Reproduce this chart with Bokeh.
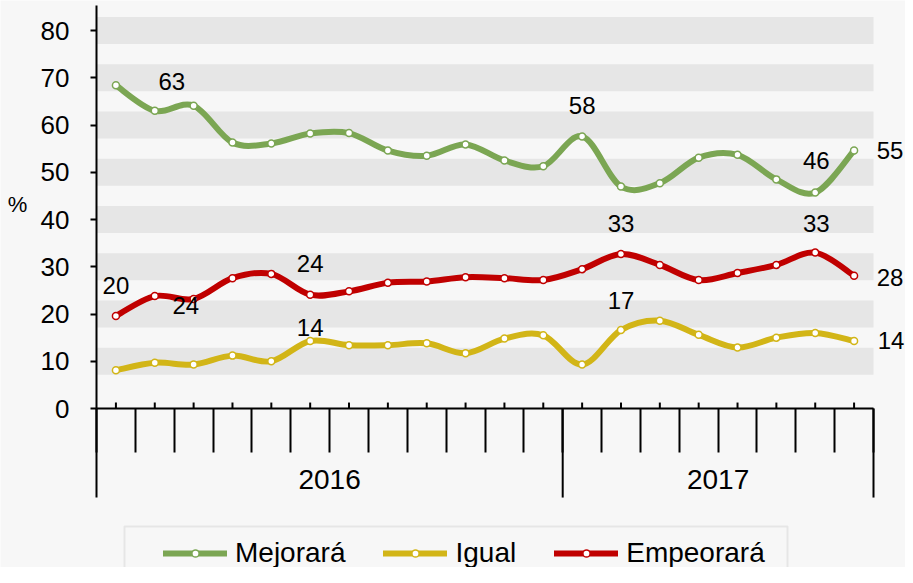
from bokeh.plotting import figure
from bokeh.models import (FixedTicker, Range1d, Legend, LegendItem,
                          BoxAnnotation, ColumnDataSource)
from bokeh.core.properties import value
from bokeh.embed import file_html
from bokeh.resources import INLINE

# ---------------- data ----------------
years = ["2016"] * 12 + ["2017"] * 8
months = ["Ene", "Feb", "Mar", "Abr", "May", "Jun", "Jul", "Ago", "Sep", "Oct", "Nov", "Dic",
          "Ene", "Feb", "Mar", "Abr", "May", "Jun", "Jul", "Ago"]
mejorara = [68.4, 63.0, 64.1, 56.3, 56.1, 58.2, 58.3, 54.6, 53.5, 55.9,
            52.5, 51.3, 57.6, 47.0, 47.7, 53.1, 53.7, 48.5, 45.7, 54.6]
igual = [8.1, 9.7, 9.3, 11.2, 10.0, 14.3, 13.4, 13.4, 13.8, 11.7,
         14.8, 15.5, 9.3, 16.6, 18.6, 15.6, 12.9, 15.0, 16.0, 14.3]
empeorara = [19.6, 23.8, 23.2, 27.6, 28.5, 24.1, 24.8, 26.6, 26.9, 27.8,
             27.6, 27.2, 29.5, 32.7, 30.4, 27.2, 28.7, 30.4, 33.0, 28.1]
y_ticks = [0, 10, 20, 30, 40, 50, 60, 70, 80]
y_title = "%"
series_names = ["Mejorará", "Igual", "Empeorará"]
# indices of points that carry a data label, per series
labeled = {"Mejorará": [1, 12, 18, 19], "Igual": [5, 13, 19], "Empeorará": [0, 1, 5, 13, 18, 19]}

# ---------------- styles / layout ----------------
BG = "#f7f7f7"
BAND = "#e6e6e6"
COLORS = {"Mejorará": "#7ba653", "Igual": "#d2b517", "Empeorará": "#c00000"}
FONT = "Liberation Sans"
# label offsets in screen pixels (dx, dy down)
label_offsets = {
    "Mejorará": [(17, -29), (0, -31), (1, -32), (36, 0)],
    "Igual": [(0, -13), (0, -30), (37, 0)],
    "Empeorará": [(0, -30), (31, 9), (0, -31), (0, -31), (1, -29), (36, 2)],
}

n = len(months)
xs = list(range(n))
series = {"Mejorará": mejorara, "Igual": igual, "Empeorará": empeorara}

# figure geometry: the whole figure is the drawing frame
W, H = 905, 567
LEFT, TOP = 96, 5                 # figure px of the plot area's top-left corner
PX_X = 38.85                      # px per month
Y_TOP = 85.3                      # value at top of plot area
PX_Y = 4.725                      # px per percent point
x_start = -0.5 - LEFT / PX_X
x_end = -0.5 + (W - LEFT) / PX_X
y_end = Y_TOP + TOP / PX_Y
y_start = Y_TOP - (H - TOP) / PX_Y

def px_x(fx):
    return -0.5 + (fx - LEFT) / PX_X
def px_y(fy):
    return Y_TOP - (fy - TOP) / PX_Y

p = figure(width=W, height=H, output_backend="svg", toolbar_location=None,
           x_range=Range1d(x_start, x_end), y_range=Range1d(y_start, y_end),
           min_border_left=0, min_border_right=0, min_border_top=0, min_border_bottom=0,
           background_fill_color=BG, border_fill_color=BG, outline_line_color=None)
p.xgrid.grid_line_color = None
p.ygrid.grid_line_color = None

# alternating bands
band_ticks = y_ticks[1:]
p.quad(left=-0.5, right=n - 0.5, bottom=[t - 2.85 for t in band_ticks],
       top=[t + 2.85 for t in band_ticks], fill_color=BAND, line_color=None)

# y axis drawn at x = -0.5
ya = p.yaxis[0]
ya.fixed_location = -0.5
ya.ticker = FixedTicker(ticks=y_ticks)
ya.bounds = (0, Y_TOP)
ya.major_tick_out = 6
ya.major_tick_in = 0
ya.minor_tick_out = 0
ya.minor_tick_in = 0
ya.axis_line_width = 2
ya.axis_line_color = "black"
ya.major_tick_line_width = 2
ya.major_tick_line_color = "black"
ya.major_label_standoff = 21
ya.major_label_text_font = FONT
ya.major_label_text_font_size = "26px"
ya.major_label_text_color = "black"

# "%" title, centred on the value axis
p.text(x=[-0.5], y=[Y_TOP / 2], text=[y_title], x_offset=-79, y_offset=-3,
       text_font=value(FONT), text_font_size="22px", text_align="center",
       text_baseline="middle", text_color="black")

# x axis at y = 0: month boundaries (minor ticks), year names at year centres
boundaries = [i - 0.5 for i in range(n + 1)]
separators = [-0.5] + [i - 0.5 for i in range(1, n) if years[i] != years[i - 1]] + [n - 0.5]
year_names = sorted(set(years))
year_centers = []
for yr in year_names:
    idx = [i for i, y in enumerate(years) if y == yr]
    year_centers.append(sum(idx) / len(idx))

xa = p.xaxis[0]
xa.fixed_location = 0
xa.bounds = (-0.5, n - 0.5)
xa.ticker = FixedTicker(ticks=year_centers, minor_ticks=boundaries)
xa.major_label_overrides = {c: yr for c, yr in zip(year_centers, year_names)}
xa.major_tick_out = 0
xa.major_tick_in = 0
xa.minor_tick_out = 44
xa.minor_tick_in = 0
xa.axis_line_width = 2
xa.axis_line_color = "black"
xa.minor_tick_line_width = 2
xa.minor_tick_line_color = "black"
xa.major_label_standoff = 17
xa.major_label_text_font = FONT
xa.major_label_text_font_size = "28px"
xa.major_label_text_color = "black"

# long year separators below the axis
p.ray(x=separators, y=[0] * len(separators), length=89, length_units="screen",
      angle=-90, angle_units="deg", line_color="black", line_width=2)
# small upward ticks at each month
p.ray(x=xs, y=[0] * n, length=6, length_units="screen", angle=90, angle_units="deg",
      line_color="black", line_width=2)

# smoothed lines (cardinal bezier like the spreadsheet's smooth line)
def bezier_segments(xv, yv):
    m = len(xv)
    d = dict(x0=[], y0=[], x1=[], y1=[], cx0=[], cy0=[], cx1=[], cy1=[])
    for i in range(m - 1):
        a = max(i - 1, 0)
        b = min(i + 2, m - 1)
        d["x0"].append(xv[i]); d["y0"].append(yv[i])
        d["x1"].append(xv[i + 1]); d["y1"].append(yv[i + 1])
        d["cx0"].append(xv[i] + (xv[i + 1] - xv[a]) / 6)
        d["cy0"].append(yv[i] + (yv[i + 1] - yv[a]) / 6)
        d["cx1"].append(xv[i + 1] - (xv[b] - xv[i]) / 6)
        d["cy1"].append(yv[i + 1] - (yv[b] - yv[i]) / 6)
    return d

items = []
for name in series_names:
    vals = series[name]
    col = COLORS[name]
    src = ColumnDataSource(bezier_segments(xs, vals))
    br = p.bezier(x0="x0", y0="y0", x1="x1", y1="y1", cx0="cx0", cy0="cy0",
                  cx1="cx1", cy1="cy1", source=src, line_color=col, line_width=6,
                  line_cap="round")
    sr = p.scatter(x=xs, y=vals, size=7, fill_color="white", line_color=col, line_width=1.5)
    items.append(LegendItem(label=name, renderers=[br, sr]))

for name in series_names:
    vals = series[name]
    idx = labeled[name]
    offs = label_offsets[name]
    p.text(x=[xs[i] for i in idx], y=[vals[i] for i in idx],
           text=[str(int(round(vals[i]))) for i in idx],
           x_offset=[o[0] for o in offs], y_offset=[o[1] for o in offs],
           text_font=value(FONT), text_font_size="24px", text_align="center",
           text_baseline="middle", text_color="black")

# legend frame
p.add_layout(BoxAnnotation(left=px_x(124), right=px_x(787), top=px_y(526), bottom=y_start - 10,
                           fill_color=BG, fill_alpha=1, line_color="#c0c0c0", line_width=2))

legend = Legend(items=items, orientation="horizontal", location=(LEFT + 67, -2),
                padding=0, margin=0, spacing=38, label_standoff=8,
                glyph_width=64, glyph_height=18, label_height=30,
                label_text_font=FONT, label_text_font_size="28px", label_text_color="black",
                border_line_alpha=0, background_fill_alpha=0)
p.add_layout(legend)

html = file_html(p, INLINE)
html = html.replace("<body>", '<body style="background:#f7f7f7">', 1)
open("out.html", "w").write(html)
